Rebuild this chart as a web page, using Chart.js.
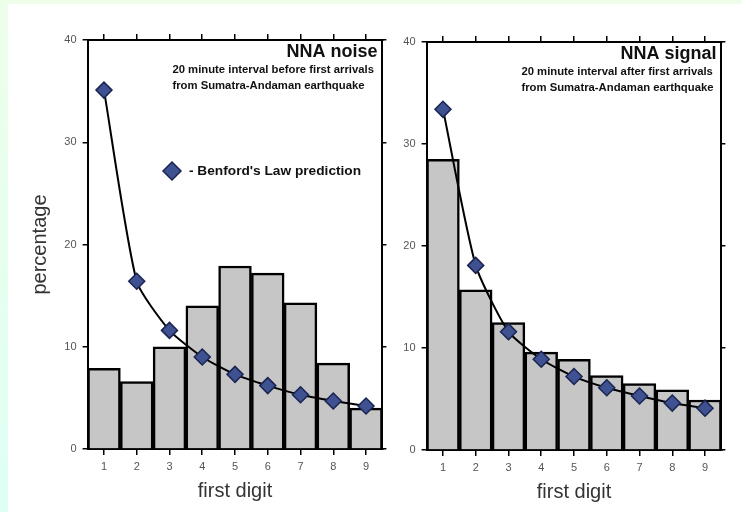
<!DOCTYPE html>
<html lang="en">
<head>
    <meta charset="UTF-8">
    <title>NNA first digit distribution</title>
    <script src="https://cdn.jsdelivr.net/npm/chart.js@4/dist/chart.umd.min.js"></script>
    <style>
        body {margin:0;padding:0;background:#fff;font-family:"Liberation Sans",Arial,Helvetica,sans-serif;}
        #page {position:relative;width:742px;height:512px;overflow:hidden;background:#fff;}
        #topStrip {position:absolute;left:0;top:0;width:742px;height:4px;background:#effee9;}
        #leftStrip {position:absolute;left:0;top:0;width:8px;height:512px;background:linear-gradient(#edffe9,#dffff4);}
        canvas {position:absolute;left:0;top:0;}
    </style>
</head>
<body>
<div id="page">
    <div id="topStrip"></div>
    <div id="leftStrip"></div>
    <canvas id="noiseChart" width="742" height="512"></canvas>
    <canvas id="signalChart" width="742" height="512"></canvas>
</div>
<script>
    const digits = ['1', '2', '3', '4', '5', '6', '7', '8', '9'];
    const noisePct = [7.9, 6.6, 10.0, 14.0, 17.9, 17.2, 14.3, 8.4, 4.0];
    const noiseBenford = [35.1, 16.4, 11.6, 9.0, 7.3, 6.2, 5.3, 4.7, 4.2];
    const signalPct = [28.5, 15.7, 12.5, 9.6, 8.9, 7.3, 6.5, 5.9, 4.9];
    const signalBenford = [33.4, 18.1, 11.6, 8.9, 7.2, 6.1, 5.3, 4.6, 4.1];
    const yTicks = [0, 10, 20, 30, 40];

    const FONT = '"Liberation Sans", Arial, Helvetica, sans-serif';
    const diamondFill = '#3e5190';
    const diamondEdge = '#1b2450';

    // headings, notes and the legend key inside each plot box
    const panelText = {
        id: 'panelText',
        afterDraw(chart, args, opts) {
            const ctx = chart.ctx;
            const a = chart.chartArea;
            ctx.save();
            ctx.fillStyle = '#111';
            ctx.font = 'bold 18px ' + FONT;
            ctx.textAlign = 'right';
            ctx.textBaseline = 'alphabetic';
            ctx.fillText(opts.heading, a.right - 5, a.top + 17);
            ctx.font = 'bold 11.3px ' + FONT;
            ctx.textAlign = 'left';
            ctx.textBaseline = 'middle';
            opts.notes.forEach((t, i) => ctx.fillText(t, a.right - opts.noteX, a.top + 30 + i * 16));
            if (opts.key) {
                const kx = a.left + opts.key.x, ky = a.top + opts.key.y;
                ctx.beginPath();
                ctx.moveTo(kx - 9, ky);
                ctx.lineTo(kx, ky - 9);
                ctx.lineTo(kx + 9, ky);
                ctx.lineTo(kx, ky + 9);
                ctx.closePath();
                ctx.fillStyle = diamondFill;
                ctx.fill();
                ctx.lineWidth = 1.5;
                ctx.strokeStyle = diamondEdge;
                ctx.stroke();
                ctx.fillStyle = '#111';
                ctx.font = 'bold 13.7px ' + FONT;
                ctx.fillText(opts.key.text, kx + 17, ky);
            }
            ctx.restore();
        }
    };

    function makePanel(id, bars, benford, box, text) {
        const tickLine = {display: true, drawOnChartArea: false, drawTicks: true, color: '#000', lineWidth: 1.5};
        return new Chart(document.getElementById(id), {
            type: 'bar',
            data: {
                labels: digits,
                datasets: [{
                    type: 'line',
                    label: "Benford's Law prediction",
                    data: benford,
                    order: 0,
                    borderColor: '#000',
                    borderWidth: 2,
                    tension: 0.2,
                    pointStyle: 'rectRot',
                    pointRadius: 8,
                    pointBackgroundColor: diamondFill,
                    pointBorderColor: diamondEdge,
                    pointBorderWidth: 1.5,
                    clip: false
                }, {
                    label: 'percentage',
                    data: bars,
                    order: 1,
                    backgroundColor: '#c6c6c6',
                    borderColor: '#000',
                    borderWidth: 2.5,
                    barPercentage: 1,
                    categoryPercentage: 1
                }]
            },
            options: {
                responsive: false,
                animation: false,
                events: [],
                layout: {padding: box.padding},
                plugins: {
                    legend: {display: false},
                    tooltip: {enabled: false},
                    panelText: text
                },
                scales: {
                    x: {
                        position: 'bottom',
                        offset: true,
                        grid: Object.assign({}, tickLine, {offset: false, tickLength: 6}),
                        border: {display: true, color: '#000', width: 2},
                        ticks: {color: '#555', font: {family: FONT, size: 11}, padding: 5, maxRotation: 0},
                        title: {display: true, text: 'first digit', color: '#333', font: {family: FONT, size: 20}, padding: {top: 0, bottom: 2}},
                        afterFit: s => { s.height = 56; }
                    },
                    x2: {
                        position: 'top',
                        type: 'category',
                        offset: true,
                        grid: Object.assign({}, tickLine, {offset: false, tickLength: 6}),
                        border: {display: true, color: '#000', width: 2},
                        ticks: {display: false},
                        afterFit: s => { s.height = 6; }
                    },
                    y: {
                        position: 'left',
                        min: 0,
                        max: 40,
                        afterBuildTicks: s => { s.ticks = yTicks.map(v => ({value: v})); },
                        grid: Object.assign({}, tickLine, {tickLength: 5}),
                        border: {display: true, color: '#000', width: 2},
                        ticks: {color: '#555', font: {family: FONT, size: 11}, padding: 6},
                        title: {display: box.yTitle, text: 'percentage', color: '#333', font: {family: FONT, size: 20}, padding: {top: 8, bottom: 0}},
                        afterFit: s => { s.width = box.yWidth; }
                    },
                    y2: {
                        position: 'right',
                        min: 0,
                        max: 40,
                        afterBuildTicks: s => { s.ticks = yTicks.map(v => ({value: v})); },
                        grid: Object.assign({}, tickLine, {tickLength: 4}),
                        border: {display: true, color: '#000', width: 2},
                        ticks: {display: false},
                        afterFit: s => { s.width = 4; }
                    }
                }
            },
            plugins: [panelText]
        });
    }

    makePanel('noiseChart', noisePct, noiseBenford,
        {padding: {left: 20, right: 355.6, top: 34, bottom: 7}, yWidth: 67.6, yTitle: true},
        {
            heading: 'NNA noise',
            notes: ['20 minute interval before first arrivals', 'from Sumatra-Andaman earthquake'],
            noteX: 210,
            key: {x: 84.4, y: 131, text: "- Benford's Law prediction"}
        });

    makePanel('signalChart', signalPct, signalBenford,
        {padding: {left: 390, right: 16.6, top: 36, bottom: 6}, yWidth: 36.6, yTitle: false},
        {
            heading: 'NNA signal',
            notes: ['20 minute interval after first arrivals', 'from Sumatra-Andaman earthquake'],
            noteX: 200
        });
</script>
</body>
</html>
